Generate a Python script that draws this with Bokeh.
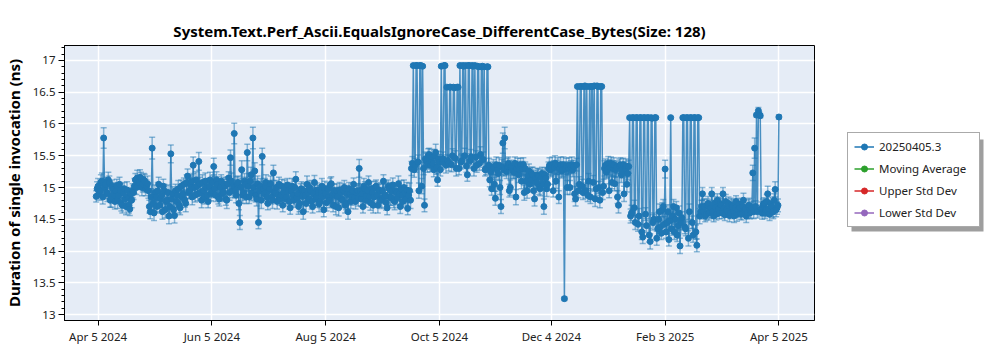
import pandas as pd
from datetime import datetime
from bokeh.plotting import figure
from bokeh.layouts import row
from bokeh.models import (ColumnDataSource, Whisker, TeeHead, Range1d, FixedTicker,
                          SingleIntervalTicker, NumeralTickFormatter, Legend, LegendItem,
                          BoxAnnotation)
from bokeh.embed import file_html
from bokeh.resources import INLINE

title_text = "System.Text.Perf_Ascii.EqualsIgnoreCase_DifferentCase_Bytes(Size: 128)"
y_label = "Duration of single invocation (ns)"
series_names = ["20250405.3", "Moving Average", "Upper Std Dev", "Lower Std Dev"]
series_colors = ["#1f77b4", "#2ca02c", "#d62728", "#9467bd"]

first_date = "2024-04-04"   # two runs per day (00:00 and 12:00) up to 2025-04-05 00:00
values_am = [
    14.86, 15.02, 14.95, 15.10, 15.78, 15.05, 14.90, 15.08, 14.82, 14.97,
    14.78, 15.03, 14.88, 14.95, 14.72, 14.98, 14.70, 14.85, 14.66, 14.80,
    14.92, 15.12, 15.15, 15.08, 15.14, 15.05, 15.10, 15.02, 14.95, 14.62,
    15.62, 14.60, 14.85, 14.95, 14.72, 14.88, 15.02, 14.65, 14.80, 14.55,
    15.53, 14.90, 14.56, 14.78, 14.98, 14.68, 14.85, 15.05, 14.75, 15.18,
    14.95, 15.10, 15.35, 14.88, 15.02, 15.41, 14.92, 15.08, 14.85, 15.00,
    14.78, 15.12, 14.95, 15.33, 14.88, 15.05, 14.82, 15.10, 14.92, 15.02,
    14.80, 15.15, 15.47, 14.95, 15.85, 14.88, 15.08, 14.45, 15.28, 14.92,
    15.05, 15.55, 14.85, 15.20, 15.78, 15.26, 14.82, 14.45, 15.02, 15.49,
    14.90, 15.08, 14.75, 14.98, 14.85, 15.23, 14.92, 14.78, 15.05, 14.88,
    14.72, 15.00, 14.85, 14.95, 14.68, 15.02, 14.80, 15.13, 14.90, 14.75,
    14.98, 14.62, 14.88, 15.05, 14.82, 14.95, 14.70, 15.08, 14.85, 14.92,
    14.78, 15.02, 14.65, 14.90, 14.98, 14.80, 15.06, 14.72, 14.88, 14.95,
    14.68, 14.92, 14.80, 15.00, 14.75, 14.62, 14.90, 14.85, 15.05, 14.78,
    14.95, 15.30, 14.82, 14.70, 14.98, 14.88, 15.08, 14.76, 14.92, 14.85,
    15.02, 14.72, 14.95, 14.80, 15.10, 14.88, 14.68, 14.98, 14.84, 15.04,
    14.78, 14.92, 15.06, 14.70, 14.88, 15.00, 14.82, 14.67, 14.95, 15.30,
    16.92, 15.35, 16.92, 14.95, 16.92, 16.91, 14.72, 15.42, 15.50, 15.35,
    15.48, 15.28, 15.55, 15.12, 15.40, 16.91, 15.45, 16.92, 16.58, 15.38,
    16.58, 15.50, 16.57, 15.30, 16.58, 16.92, 15.42, 16.91, 16.92, 15.20,
    16.92, 15.48, 16.91, 16.92, 15.35, 16.90, 15.52, 16.91, 16.90, 15.30,
    16.90, 15.12, 14.98, 15.32, 14.83, 15.28, 15.35, 14.70, 15.70, 15.78,
    15.25, 15.38, 15.00, 15.30, 15.24, 14.85, 15.35, 15.28, 15.10, 15.36,
    15.30, 14.95, 15.26, 15.12, 15.20, 14.82, 15.08, 15.18, 14.98, 15.22,
    14.70, 15.15, 15.05, 15.35, 15.30, 14.95, 15.38, 15.32, 14.85, 15.36,
    15.28, 13.25, 15.34, 15.30, 15.00, 15.36, 15.33, 14.82, 16.59, 15.05,
    16.59, 14.92, 16.60, 16.59, 15.10, 14.85, 16.59, 16.60, 14.98, 16.59,
    14.80, 16.59, 15.02, 15.35, 15.28, 14.95, 15.38, 15.30, 15.06, 15.32,
    14.72, 15.36, 15.25, 14.90, 15.34, 15.22, 16.10, 14.60, 16.10, 14.45,
    16.10, 14.55, 16.10, 14.22, 16.10, 14.40, 16.10, 14.15, 16.09, 14.50,
    16.10, 14.35, 14.62, 14.28, 14.70, 15.29, 14.45, 14.18, 16.10, 14.55,
    14.30, 14.68, 14.40, 14.08, 14.52, 16.10, 14.35, 16.10, 14.62, 16.10,
    14.25, 16.10, 14.09, 16.10, 14.62, 14.90, 14.70, 14.58, 14.75, 14.62,
    14.90, 14.55, 14.68, 14.80, 14.60, 14.72, 14.90, 14.57, 14.65, 14.75,
    14.60, 14.70, 14.55, 14.78, 14.64, 14.68, 14.58, 14.80, 14.66, 14.60,
    14.72, 14.62, 15.23, 15.62, 16.14, 16.21, 16.13, 14.60, 14.75, 14.65,
    14.90, 14.58, 14.70, 14.62, 14.97, 14.68, 16.11,
]
errors_am = [
    0.09, 0.12, 0.10, 0.13, 0.16, 0.11, 0.12, 0.10, 0.13, 0.11,
    0.12, 0.10, 0.13, 0.11, 0.12, 0.10, 0.13, 0.11, 0.10, 0.12,
    0.11, 0.10, 0.12, 0.11, 0.10, 0.12, 0.11, 0.10, 0.12, 0.11,
    0.17, 0.12, 0.11, 0.13, 0.10, 0.12, 0.11, 0.13, 0.10, 0.12,
    0.14, 0.11, 0.12, 0.10, 0.13, 0.11, 0.12, 0.10, 0.13, 0.11,
    0.12, 0.10, 0.13, 0.11, 0.12, 0.14, 0.10, 0.12, 0.11, 0.13,
    0.10, 0.12, 0.11, 0.13, 0.10, 0.12, 0.11, 0.10, 0.12, 0.11,
    0.13, 0.10, 0.12, 0.11, 0.16, 0.12, 0.10, 0.11, 0.14, 0.12,
    0.11, 0.13, 0.10, 0.12, 0.17, 0.13, 0.11, 0.10, 0.12, 0.13,
    0.11, 0.12, 0.10, 0.13, 0.11, 0.12, 0.10, 0.12, 0.11, 0.13,
    0.10, 0.12, 0.11, 0.13, 0.10, 0.12, 0.11, 0.12, 0.10, 0.13,
    0.11, 0.12, 0.10, 0.13, 0.11, 0.12, 0.10, 0.11, 0.13, 0.12,
    0.10, 0.12, 0.11, 0.13, 0.10, 0.12, 0.11, 0.10, 0.12, 0.11,
    0.13, 0.10, 0.12, 0.11, 0.10, 0.12, 0.11, 0.13, 0.10, 0.12,
    0.11, 0.14, 0.12, 0.10, 0.11, 0.13, 0.10, 0.12, 0.11, 0.13,
    0.10, 0.12, 0.11, 0.13, 0.10, 0.12, 0.11, 0.10, 0.12, 0.11,
    0.13, 0.10, 0.12, 0.11, 0.10, 0.12, 0.11, 0.10, 0.12, 0.11,
    0.02, 0.11, 0.02, 0.12, 0.02, 0.02, 0.10, 0.12, 0.11, 0.10,
    0.12, 0.11, 0.13, 0.10, 0.12, 0.02, 0.11, 0.02, 0.02, 0.12,
    0.02, 0.11, 0.02, 0.12, 0.02, 0.02, 0.11, 0.02, 0.02, 0.10,
    0.02, 0.12, 0.02, 0.02, 0.11, 0.02, 0.12, 0.02, 0.02, 0.10,
    0.02, 0.11, 0.10, 0.12, 0.11, 0.10, 0.12, 0.11, 0.16, 0.17,
    0.11, 0.10, 0.12, 0.11, 0.10, 0.12, 0.11, 0.10, 0.12, 0.11,
    0.10, 0.12, 0.11, 0.10, 0.12, 0.11, 0.10, 0.12, 0.11, 0.10,
    0.12, 0.11, 0.10, 0.12, 0.11, 0.10, 0.12, 0.11, 0.10, 0.12,
    0.11, 0.03, 0.12, 0.10, 0.11, 0.12, 0.10, 0.11, 0.02, 0.12,
    0.02, 0.11, 0.02, 0.02, 0.12, 0.10, 0.02, 0.02, 0.11, 0.02,
    0.12, 0.02, 0.11, 0.10, 0.12, 0.11, 0.10, 0.12, 0.11, 0.10,
    0.12, 0.11, 0.10, 0.12, 0.11, 0.10, 0.02, 0.12, 0.02, 0.11,
    0.02, 0.12, 0.02, 0.10, 0.02, 0.11, 0.02, 0.12, 0.02, 0.10,
    0.02, 0.11, 0.12, 0.10, 0.11, 0.14, 0.12, 0.10, 0.02, 0.11,
    0.12, 0.10, 0.11, 0.12, 0.10, 0.02, 0.11, 0.02, 0.12, 0.02,
    0.11, 0.02, 0.10, 0.02, 0.11, 0.10, 0.12, 0.09, 0.11, 0.10,
    0.10, 0.09, 0.11, 0.10, 0.09, 0.11, 0.10, 0.09, 0.11, 0.10,
    0.09, 0.11, 0.10, 0.09, 0.11, 0.10, 0.09, 0.11, 0.10, 0.09,
    0.11, 0.10, 0.12, 0.16, 0.03, 0.05, 0.03, 0.10, 0.09, 0.11,
    0.12, 0.10, 0.09, 0.11, 0.12, 0.10, 0.03,
]
values_pm = [
    14.98, 14.90, 15.08, 14.85, 15.00, 14.92, 15.12, 14.80, 15.02, 14.88,
    14.95, 14.80, 15.05, 14.75, 14.92, 14.82, 14.96, 14.72, 14.90, 14.95,
    15.02, 15.00, 15.08, 15.16, 15.00, 15.12, 14.98, 15.06, 14.70, 14.85,
    14.75, 14.92, 14.70, 15.05, 14.82, 14.62, 14.95, 14.78, 14.92, 14.70,
    14.82, 14.65, 14.95, 14.88, 14.72, 15.02, 14.90, 14.80, 15.08, 14.92,
    15.05, 14.85, 15.00, 15.12, 14.90, 15.06, 14.80, 14.95, 15.10, 14.88,
    15.02, 14.90, 15.08, 14.98, 15.12, 14.85, 15.00, 14.90, 15.05, 14.82,
    15.06, 14.92, 15.10, 15.02, 14.95, 15.05, 14.75, 15.00, 14.88, 15.10,
    14.85, 15.02, 15.10, 14.92, 15.00, 14.88, 15.06, 14.95, 14.80, 14.98,
    15.02, 14.85, 14.95, 15.06, 14.80, 14.92, 15.00, 14.88, 14.82, 15.02,
    14.92, 14.82, 15.04, 14.78, 14.95, 14.88, 15.00, 14.84, 14.70, 14.96,
    14.86, 14.95, 14.75, 14.92, 15.00, 14.78, 14.90, 14.82, 14.96, 14.74,
    14.92, 14.86, 14.98, 14.76, 14.85, 15.04, 14.88, 14.95, 14.70, 14.86,
    14.96, 14.82, 14.95, 14.72, 14.90, 14.98, 14.78, 14.95, 14.84, 14.92,
    14.84, 14.95, 14.90, 15.02, 14.80, 14.95, 14.86, 14.98, 14.72, 15.00,
    14.88, 14.96, 14.82, 14.95, 14.86, 14.76, 15.02, 14.85, 14.94, 14.80,
    14.95, 14.84, 14.90, 14.98, 14.78, 14.92, 14.96, 14.88, 14.80, 15.38,
    15.28, 16.92, 15.40, 16.92, 15.02, 15.30, 15.45, 15.36, 15.52, 15.40,
    15.38, 15.50, 15.32, 15.45, 15.28, 15.40, 16.92, 15.35, 15.42, 16.58,
    15.36, 16.58, 15.46, 16.58, 15.30, 15.40, 16.92, 15.50, 15.34, 16.92,
    15.42, 16.92, 15.30, 15.48, 16.91, 15.38, 16.90, 15.44, 15.28, 16.90,
    15.35, 15.25, 15.30, 15.05, 15.36, 15.22, 15.00, 15.32, 15.28, 15.30,
    15.34, 14.95, 15.32, 15.26, 15.38, 15.30, 15.20, 15.36, 15.30, 14.92,
    15.10, 15.18, 15.05, 15.22, 14.95, 15.15, 15.20, 15.00, 15.16, 15.06,
    15.20, 14.98, 15.30, 15.28, 15.36, 15.32, 15.10, 15.35, 15.30, 15.26,
    15.36, 15.30, 15.00, 15.35, 15.32, 15.28, 14.90, 15.36, 14.95, 16.59,
    15.02, 16.59, 14.95, 14.88, 16.59, 16.59, 15.08, 14.82, 16.60, 15.00,
    16.59, 14.92, 15.30, 15.24, 15.38, 15.32, 15.08, 15.36, 15.28, 14.85,
    15.34, 15.20, 15.36, 15.30, 15.05, 15.33, 14.55, 16.10, 14.68, 16.10,
    14.42, 16.10, 14.30, 16.10, 14.58, 16.10, 14.25, 16.10, 14.45, 16.10,
    14.20, 14.50, 14.38, 14.65, 14.42, 14.30, 14.62, 14.48, 14.35, 14.70,
    14.50, 14.25, 14.60, 14.45, 16.10, 14.38, 16.10, 14.20, 16.10, 14.45,
    16.10, 14.30, 16.10, 14.55, 14.70, 14.62, 14.55, 14.72, 14.60, 14.68,
    14.62, 14.75, 14.58, 14.66, 14.74, 14.60, 14.68, 14.78, 14.62, 14.56,
    14.72, 14.62, 14.68, 14.58, 14.74, 14.60, 14.70, 14.64, 14.55, 14.70,
    14.60, 14.68, 14.62, 14.70, 14.62, 16.15, 14.66, 14.72, 14.60, 14.78,
    14.66, 14.74, 14.62, 14.80, 14.65, 14.72,
]
errors_pm = [
    0.11, 0.10, 0.12, 0.11, 0.13, 0.10, 0.12, 0.11, 0.10, 0.12,
    0.10, 0.13, 0.11, 0.12, 0.10, 0.11, 0.13, 0.12, 0.10, 0.11,
    0.12, 0.11, 0.10, 0.12, 0.13, 0.10, 0.11, 0.12, 0.10, 0.13,
    0.11, 0.12, 0.10, 0.11, 0.13, 0.12, 0.10, 0.11, 0.12, 0.10,
    0.12, 0.13, 0.10, 0.11, 0.12, 0.10, 0.13, 0.11, 0.12, 0.10,
    0.11, 0.12, 0.10, 0.13, 0.11, 0.10, 0.12, 0.11, 0.13, 0.10,
    0.12, 0.11, 0.10, 0.12, 0.13, 0.11, 0.10, 0.12, 0.11, 0.10,
    0.11, 0.12, 0.13, 0.10, 0.11, 0.12, 0.10, 0.11, 0.13, 0.12,
    0.10, 0.11, 0.12, 0.13, 0.10, 0.11, 0.12, 0.10, 0.13, 0.11,
    0.12, 0.10, 0.11, 0.12, 0.13, 0.10, 0.11, 0.12, 0.10, 0.11,
    0.13, 0.11, 0.10, 0.12, 0.11, 0.13, 0.10, 0.11, 0.12, 0.10,
    0.11, 0.12, 0.13, 0.10, 0.11, 0.12, 0.10, 0.13, 0.11, 0.12,
    0.10, 0.11, 0.12, 0.13, 0.10, 0.11, 0.12, 0.10, 0.13, 0.11,
    0.12, 0.10, 0.11, 0.12, 0.13, 0.10, 0.11, 0.12, 0.10, 0.11,
    0.13, 0.11, 0.10, 0.12, 0.11, 0.13, 0.10, 0.11, 0.12, 0.10,
    0.11, 0.12, 0.13, 0.10, 0.11, 0.12, 0.10, 0.13, 0.11, 0.12,
    0.10, 0.11, 0.12, 0.13, 0.10, 0.11, 0.12, 0.10, 0.13, 0.11,
    0.12, 0.02, 0.11, 0.02, 0.12, 0.10, 0.11, 0.12, 0.10, 0.11,
    0.12, 0.10, 0.11, 0.12, 0.10, 0.11, 0.02, 0.12, 0.10, 0.02,
    0.11, 0.02, 0.12, 0.02, 0.10, 0.11, 0.02, 0.12, 0.10, 0.02,
    0.11, 0.02, 0.12, 0.10, 0.02, 0.11, 0.02, 0.12, 0.10, 0.02,
    0.11, 0.12, 0.10, 0.11, 0.12, 0.10, 0.11, 0.12, 0.10, 0.11,
    0.12, 0.10, 0.11, 0.12, 0.10, 0.11, 0.12, 0.10, 0.11, 0.12,
    0.10, 0.11, 0.12, 0.10, 0.11, 0.12, 0.10, 0.11, 0.12, 0.10,
    0.11, 0.12, 0.10, 0.11, 0.12, 0.10, 0.11, 0.12, 0.10, 0.11,
    0.12, 0.10, 0.11, 0.12, 0.10, 0.11, 0.12, 0.10, 0.11, 0.02,
    0.11, 0.02, 0.12, 0.10, 0.02, 0.02, 0.11, 0.12, 0.02, 0.10,
    0.02, 0.11, 0.12, 0.10, 0.11, 0.12, 0.10, 0.11, 0.12, 0.10,
    0.11, 0.12, 0.10, 0.11, 0.12, 0.10, 0.11, 0.02, 0.12, 0.02,
    0.11, 0.02, 0.12, 0.02, 0.10, 0.02, 0.11, 0.02, 0.12, 0.02,
    0.11, 0.12, 0.10, 0.11, 0.12, 0.10, 0.11, 0.12, 0.10, 0.11,
    0.12, 0.10, 0.11, 0.12, 0.02, 0.11, 0.02, 0.12, 0.02, 0.10,
    0.02, 0.11, 0.02, 0.12, 0.10, 0.11, 0.09, 0.10, 0.11, 0.09,
    0.10, 0.11, 0.09, 0.10, 0.11, 0.09, 0.10, 0.11, 0.09, 0.10,
    0.11, 0.09, 0.10, 0.11, 0.09, 0.10, 0.11, 0.09, 0.10, 0.11,
    0.09, 0.10, 0.11, 0.09, 0.10, 0.04, 0.11, 0.10, 0.09, 0.11,
    0.10, 0.11, 0.09, 0.10, 0.11, 0.10,
]

tick_dates = ["2024-04-05", "2024-06-05", "2024-08-05", "2024-10-05",
              "2024-12-04", "2025-02-03", "2025-04-05"]
tick_labels = ["Apr 5 2024", "Jun 5 2024", "Aug 5 2024", "Oct 5 2024",
               "Dec 4 2024", "Feb 3 2025", "Apr 5 2025"]

# merge the two daily runs in time order
days = pd.date_range(first_date, periods=len(values_am), freq="D")
xs, ys, es = [], [], []
for i, day in enumerate(days):
    xs.append(day); ys.append(values_am[i]); es.append(errors_am[i])
    if i < len(values_pm):
        xs.append(day + pd.Timedelta(hours=12)); ys.append(values_pm[i]); es.append(errors_pm[i])

src = ColumnDataSource(dict(
    x=xs, y=ys,
    upper=[v + e for v, e in zip(ys, es)],
    lower=[v - e for v, e in zip(ys, es)],
))

def ms(d):
    return int(pd.Timestamp(d).value // 10**6)

FONT = "Noto Sans"

p = figure(width=820, height=350, x_axis_type="datetime",
           output_backend="svg", toolbar_location=None,
           x_range=Range1d(datetime(2024, 3, 18), datetime(2025, 4, 24, 2)),
           y_range=Range1d(12.906, 17.236),
           min_border_left=57, min_border_right=6,
           min_border_top=45, min_border_bottom=30)

p.title.text = title_text
p.title.align = "center"
p.title.text_font = FONT
p.title.text_font_size = "15px"
p.title.text_font_style = "bold"
p.title.text_color = "black"

p.background_fill_color = "#E5ECF6"
p.border_fill_color = "white"
p.outline_line_color = "black"
p.outline_line_width = 1
p.outline_line_alpha = 1

for g in (p.xgrid, p.ygrid):
    g.grid_line_color = "white"
    g.grid_line_width = 1.5

xa = p.xaxis[0]
xa.ticker = FixedTicker(ticks=[ms(d) for d in tick_dates])
xa.major_label_overrides = {ms(d): lab for d, lab in zip(tick_dates, tick_labels)}
xa.major_tick_out = 5
xa.major_tick_in = 0

ya = p.yaxis[0]
ya.ticker = SingleIntervalTicker(interval=0.5, num_minor_ticks=5)
ya.formatter = NumeralTickFormatter(format="0.[0]")
ya.axis_label = y_label
ya.axis_label_text_font = FONT
ya.axis_label_text_font_size = "15px"
ya.axis_label_text_font_style = "bold"
ya.axis_label_text_color = "black"
ya.major_tick_out = 6
ya.major_tick_in = 0
ya.minor_tick_out = 3
ya.minor_tick_in = 0
ya.axis_label_standoff = 6

for ax in (xa, ya):
    ax.axis_line_color = "black"
    ax.major_tick_line_color = "black"
    ax.minor_tick_line_color = "black" if ax is ya else None
    ax.major_label_text_font = FONT
    ax.major_label_text_font_size = "11.5px"
    ax.major_label_text_color = "#222222"
    ax.major_label_standoff = 3

c = series_colors[0]
wh = Whisker(source=src, base="x", upper="upper", lower="lower",
             line_color=c, line_alpha=0.5, line_width=1.5,
             upper_head=TeeHead(size=6, line_color=c, line_alpha=0.5, line_width=1.5),
             lower_head=TeeHead(size=6, line_color=c, line_alpha=0.5, line_width=1.5))
p.add_layout(wh)

p.line("x", "y", source=src, line_color=c, line_width=1.5, line_alpha=0.8)
p.scatter("x", "y", source=src, marker="circle", size=6, fill_color=c, line_color=c)

# legend panel to the right of the chart (its frame is aligned with the chart's: 275 px tall)
lp = figure(width=180, height=350, output_backend="svg", toolbar_location=None,
            x_range=Range1d(0, 180), y_range=Range1d(0, 275),
            x_axis_location=None, y_axis_location=None,
            min_border=0, outline_line_color=None)
lp.grid.visible = False
lp.background_fill_color = "white"
lp.border_fill_color = "white"

shadow = BoxAnnotation(left=31, right=163, bottom=89, top=181,
                       fill_color="#9e9e9e", fill_alpha=1, line_color=None)
lp.add_layout(shadow)

items = []
for name, col in zip(series_names, series_colors):
    s = ColumnDataSource(dict(x=[float("nan")], y=[float("nan")]))
    ln = lp.line("x", "y", source=s, line_color=col, line_width=1.5)
    sc = lp.scatter("x", "y", source=s, marker="circle", size=5,
                    fill_color=col, line_color=col)
    items.append(LegendItem(label=name, renderers=[ln, sc]))

legend = Legend(items=items, location=(27, 93),
                label_text_font=FONT, label_text_font_size="11.5px",
                label_text_color="#222222",
                glyph_width=20, glyph_height=15, spacing=7,
                padding=6, margin=0, label_standoff=5, label_width=94,
                border_line_color="#555555", border_line_width=1,
                background_fill_color="white", background_fill_alpha=1)
lp.add_layout(legend, "center")

layout = row(p, lp)
open("out.html", "w").write(file_html(layout, INLINE))
